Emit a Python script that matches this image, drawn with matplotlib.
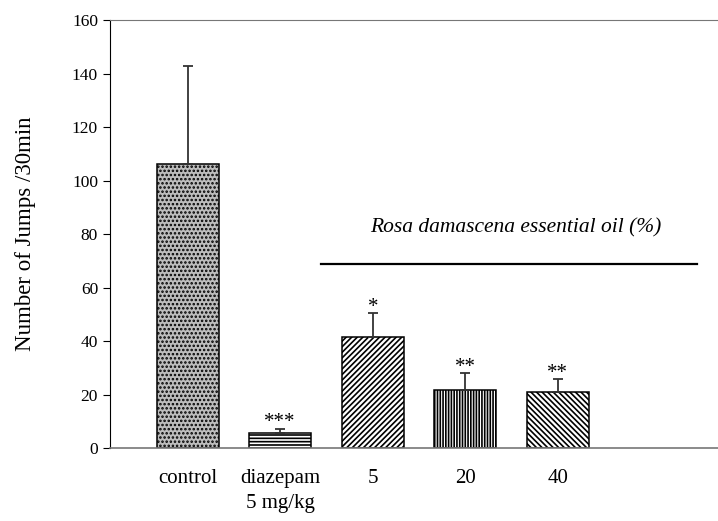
import matplotlib
matplotlib.use("Agg")
import matplotlib.pyplot as plt

# Data
groups = ["control", "diazepam\n5 mg/kg", "5", "20", "40"]
means = [106, 5.5, 41.5, 21.8, 20.8]
errors = [36.7, 1.8, 8.8, 6.4, 5.0]
stars = ["", "***", "*", "**", "**"]
hatches = ["....", "-----", "//////", "||||||", "\\\\\\\\\\\\"]
colors = ["#bdbdbd", "white", "white", "white", "white"]

plt.rcParams["font.family"] = ["Liberation Serif"]
plt.rcParams["hatch.linewidth"] = 1.2

fig = plt.figure(figsize=(7.18, 5.21), dpi=100)
ax = fig.add_axes([0.153, 0.14, 0.847, 0.8216])

x = range(len(groups))
bars = ax.bar(x, means, width=0.67, color=colors, edgecolor="black", linewidth=1.1,
              yerr=[[0] * len(errors), errors], capsize=3.5,
              error_kw=dict(ecolor="#333333", elinewidth=1.3, capthick=1.3))
for b, h in zip(bars, hatches):
    b.set_hatch(h)

# significance stars
for i, (m, e, s) in enumerate(zip(means, errors, stars)):
    if s:
        ax.text(i, m + e + 0.4, s, ha="center", va="baseline", fontsize=15)

# Rosa damascena bracket
ax.plot([1.44, 5.50], [68.8, 68.8], color="black", linewidth=1.6)
ax.text(3.54, 80.7, "Rosa damascena essential oil (%)", style="italic",
        ha="center", va="baseline", fontsize=15.5)

ax.set_xlim(-0.84, 5.73)
ax.set_ylim(0, 160)
ax.set_yticks(range(0, 161, 20))
ax.set_xticks(list(x))
ax.set_xticklabels(groups, fontsize=15, va="top", linespacing=1.45)
ax.tick_params(axis="x", length=0, pad=15)
ax.tick_params(axis="y", labelsize=12.5, length=5, direction="out")
ax.set_ylabel("Number of Jumps /30min", fontsize=16.5, labelpad=26)

ax.spines["right"].set_visible(False)
ax.spines["top"].set_color("#777777")
ax.spines["bottom"].set_color("#777777")
ax.spines["bottom"].set_linewidth(1.2)
ax.spines["left"].set_color("black")

fig.savefig("out.png", dpi=100)
